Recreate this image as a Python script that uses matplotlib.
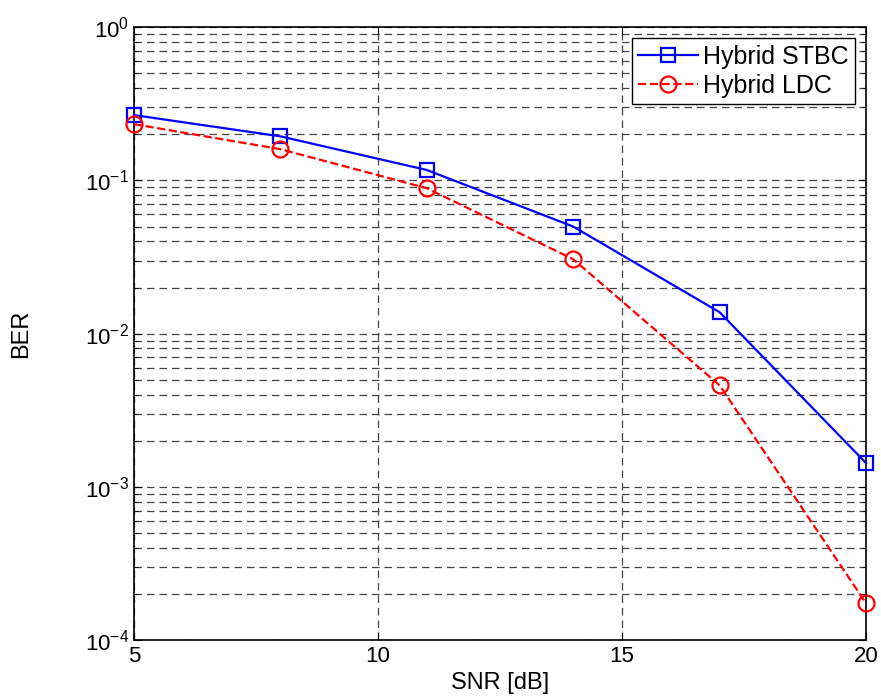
import math
import matplotlib
matplotlib.use("Agg")
import matplotlib.pyplot as plt
from matplotlib.ticker import LogLocator, FixedLocator, NullFormatter, FuncFormatter

plt.rcParams["font.family"] = ["Liberation Sans", "DejaVu Sans"]
plt.rcParams["mathtext.fontset"] = "custom"
plt.rcParams["mathtext.rm"] = "Liberation Sans"
plt.rcParams["mathtext.default"] = "regular"

snr_db = [5, 8, 11, 14, 17, 20]
ber_stbc = [0.267, 0.194, 0.117, 0.050, 0.0138, 0.00143]
ber_ldc = [0.233, 0.160, 0.089, 0.0306, 0.0046, 0.000174]
x_ticks = [5, 10, 15, 20]

fig = plt.figure(figsize=(8.81, 6.98), dpi=100)
ax = fig.add_axes([0.152, 0.083, 0.831, 0.878])

ax.semilogy(snr_db, ber_stbc, "-s", color="#0000ff", lw=1.6, ms=10,
            mfc="none", mew=1.6, label="Hybrid STBC", clip_on=False, zorder=3)
ax.semilogy(snr_db, ber_ldc, "--o", color="#ff0000", lw=1.6, ms=11.5,
            mfc="none", mew=1.6, label="Hybrid LDC", clip_on=False, zorder=3)

ax.set_xlim(5, 20)
ax.set_ylim(1e-4, 1)
ax.xaxis.set_major_locator(FixedLocator(x_ticks))
ax.yaxis.set_major_locator(LogLocator(base=10, numticks=10))
ax.yaxis.set_major_formatter(FuncFormatter(lambda v, p: r"$10^{%d}$" % round(math.log10(v))))
ax.yaxis.set_minor_locator(LogLocator(base=10, subs=range(2, 10), numticks=10))
ax.yaxis.set_minor_formatter(NullFormatter())

grid_kw = dict(color="#444444", linestyle=(0, (6, 4)), linewidth=0.9)
ax.grid(True, which="major", axis="both", **grid_kw)
ax.grid(True, which="minor", axis="y", **grid_kw)

ax.tick_params(which="both", direction="in", top=True, right=True, labelsize=16)
ax.tick_params(which="major", length=6)
ax.tick_params(which="minor", length=3)
ax.tick_params(axis="x", pad=4)
for s in ax.spines.values():
    s.set_linewidth(1.2)

ax.set_xlabel("SNR [dB]", fontsize=17, labelpad=4)
ax.set_ylabel("BER", fontsize=17, labelpad=38)

leg = ax.legend(loc="upper right", fontsize=18, fancybox=False, framealpha=1,
                edgecolor="black", borderpad=0.25, handlelength=2.4,
                handletextpad=0.2, labelspacing=0.2, borderaxespad=0.45)
leg.get_frame().set_linewidth(1.0)

fig.savefig("out.png", dpi=100)
